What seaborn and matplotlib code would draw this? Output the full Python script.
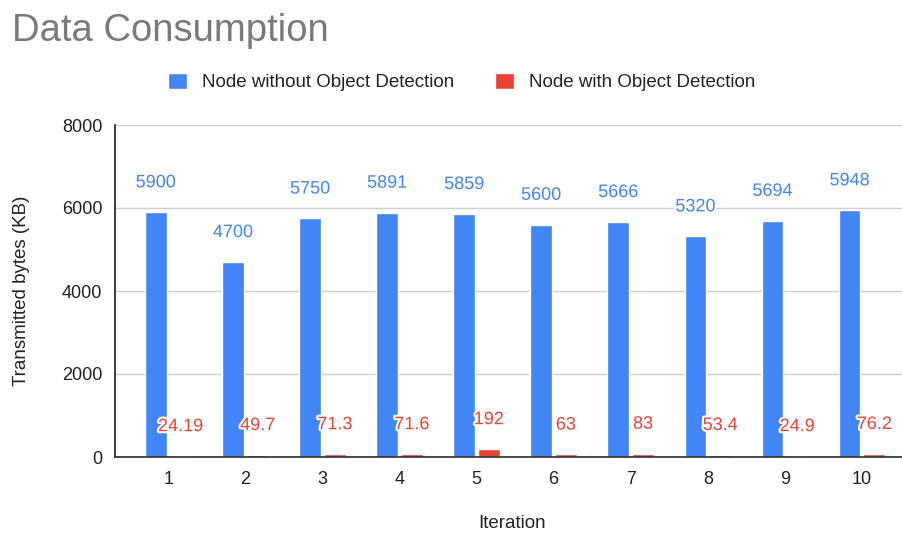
import matplotlib
matplotlib.use("Agg")
import matplotlib.pyplot as plt
import matplotlib.patheffects as pe
import pandas as pd
import seaborn as sns

iterations = [1, 2, 3, 4, 5, 6, 7, 8, 9, 10]
without_od = [5900, 4700, 5750, 5891, 5859, 5600, 5666, 5320, 5694, 5948]
with_od = [24.19, 49.7, 71.3, 71.6, 192, 63, 83, 53.4, 24.9, 76.2]
series = ["Node without Object Detection", "Node with Object Detection"]
colors = ["#4285F4", "#EA4335"]

df = pd.DataFrame({
    "Iteration": iterations * 2,
    "KB": without_od + with_od,
    "Series": [series[0]] * len(iterations) + [series[1]] * len(iterations),
})

sns.set_theme(style="white")
plt.rcParams["font.family"] = ["Liberation Sans", "DejaVu Sans"]

fig = plt.figure(figsize=(9.02, 5.38), dpi=100)
ax = fig.add_axes([115 / 902, 1 - 457 / 538, 1 - 115 / 902, (457 - 125) / 538])

sns.barplot(data=df, x="Iteration", y="KB", hue="Series", palette=colors,
            width=0.64, gap=0.12, ax=ax, saturation=1)

# value labels
for cont, vals, col in zip(ax.containers, [without_od, with_od], colors):
    ax.bar_label(cont, labels=[f"{v:g}" for v in vals], padding=15,
                 color=col, fontsize=13,
                 path_effects=[pe.withStroke(linewidth=3, foreground="white")])

ax.set_ylim(0, 8000)
ax.set_xlim(-0.69, 9.52)
ax.set_yticks([0, 2000, 4000, 6000, 8000])
ax.yaxis.grid(True, color="#d0d0d0", linewidth=1)
ax.set_axisbelow(True)
for s in ["top", "right"]:
    ax.spines[s].set_visible(False)
ax.spines["left"].set_color("#222222")
ax.spines["bottom"].set_color("#333333")
ax.tick_params(axis="y", length=0, pad=9, labelsize=13, colors="#222222")
ax.tick_params(axis="x", length=0, pad=10, labelsize=13, colors="#222222")

ax.set_xlabel("Iteration", fontsize=13.5, color="#222222")
ax.set_ylabel("Transmitted bytes (KB)", fontsize=13.5, color="#222222")
ax.xaxis.label.set_va("center")
ax.yaxis.label.set_va("center")
ax.xaxis.set_label_coords((512 - 115) / 787, (457 - 523) / 332)
ax.yaxis.set_label_coords((22 - 115) / 787, 0.5)

handles, labels = ax.get_legend_handles_labels()
ax.legend(handles, labels, ncol=2, frameon=False, loc="center",
          bbox_to_anchor=(0.512, 1 - 82 / 538), bbox_transform=fig.transFigure,
          fontsize=13.5, handlelength=1.0, handleheight=1.0, handletextpad=0.8,
          columnspacing=2.2, labelcolor="#222222")

fig.text(12 / 902, 1 - 31 / 538, "Data Consumption", fontsize=27.5,
         color="#7a7a7a", ha="left", va="center")

fig.savefig("out.png", dpi=100)
